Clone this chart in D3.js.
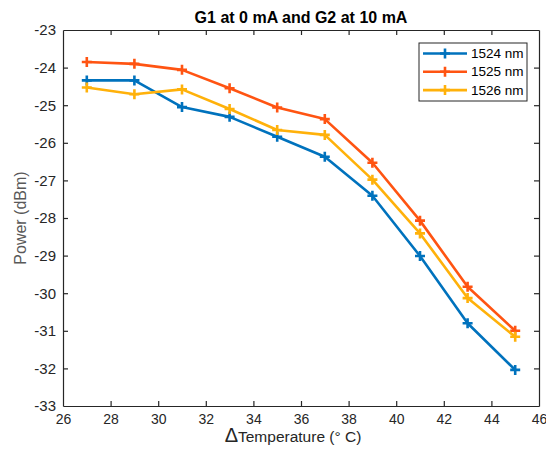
<!DOCTYPE html>
<html><head><meta charset="utf-8">
<script src="https://cdn.jsdelivr.net/npm/d3@7"></script>
<style>body{margin:0;background:#fff}svg{display:block}</style>
</head><body>
<script>
const temps = [27, 29, 31, 33, 35, 37, 39, 41, 43, 45];
const p1524 = [-24.34, -24.34, -25.05, -25.31, -25.84, -26.37, -27.41, -29.01, -30.80, -32.04];
const p1525 = [-23.85, -23.90, -24.06, -24.55, -25.06, -25.37, -26.53, -28.07, -29.83, -31.00];
const p1526 = [-24.53, -24.71, -24.58, -25.10, -25.66, -25.79, -26.98, -28.41, -30.13, -31.16];
const seriesNames = ["1524 nm", "1525 nm", "1526 nm"];
const seriesColors = ["#0072BD", "#FF5412", "#FFB10A"];
const xTicks = [26, 28, 30, 32, 34, 36, 38, 40, 42, 44, 46];
const yTicks = [-23, -24, -25, -26, -27, -28, -29, -30, -31, -32, -33];

const W = 546, H = 452;
const m = {left: 63, right: 539, top: 30, bottom: 406};
const svg = d3.select("body").append("svg").attr("width", W).attr("height", H);
const x = d3.scaleLinear().domain([26, 46]).range([m.left, m.right]);
const y = d3.scaleLinear().domain([-33, -23]).range([m.bottom, m.top]);
const font = "'Liberation Sans', Arial, Helvetica, sans-serif";
const axisCol = "#262626";

// axes
const tl = 5;
const gB = svg.append("g").attr("transform", `translate(0,${m.bottom})`)
  .call(d3.axisBottom(x).tickValues(xTicks).tickSizeInner(-tl).tickSizeOuter(0).tickPadding(8));
const gT = svg.append("g").attr("transform", `translate(0,${m.top})`)
  .call(d3.axisTop(x).tickValues(xTicks).tickSizeInner(-tl).tickSizeOuter(0).tickFormat(""));
const gL = svg.append("g").attr("transform", `translate(${m.left},0)`)
  .call(d3.axisLeft(y).tickValues(yTicks).tickSizeInner(-tl).tickSizeOuter(0).tickPadding(7)
  .tickFormat(d => d3.format("d")(d).replace("−", "-")));
const gR = svg.append("g").attr("transform", `translate(${m.right},0)`)
  .call(d3.axisRight(y).tickValues(yTicks).tickSizeInner(-tl).tickSizeOuter(0).tickFormat(""));
[gB, gT, gL, gR].forEach(g => {
  g.selectAll("path.domain").attr("stroke", axisCol).attr("stroke-width", 1.2);
  g.selectAll("line").attr("stroke", axisCol).attr("stroke-width", 1.2);
  g.selectAll("text").attr("fill", axisCol).attr("font-family", font).attr("font-size", 15);
});
gB.selectAll("text").attr("font-size", 14);
[gB, gT].forEach(g => g.selectAll(".tick").filter(d => d === 26 || d === 46).select("line").remove());
[gL, gR].forEach(g => g.selectAll(".tick").filter(d => d === -23 || d === -33).select("line").remove());

// series
const data = [p1524, p1525, p1526];
const line = d3.line().x((d, i) => x(temps[i])).y(d => y(d));
data.forEach((vals, k) => {
  const g = svg.append("g");
  g.append("path").datum(vals).attr("d", line).attr("fill", "none")
    .attr("stroke", seriesColors[k]).attr("stroke-width", 2.6).attr("stroke-linejoin", "round");
  g.selectAll("path.mk").data(vals).join("path").attr("class", "mk")
    .attr("d", (d, i) => { const cx = x(temps[i]), cy = y(d), s = 5; return `M${cx - s},${cy}H${cx + s}M${cx},${cy - s}V${cy + s}`; })
    .attr("stroke", seriesColors[k]).attr("stroke-width", 2.6).attr("fill", "none");
});

// title
svg.append("text").attr("x", (m.left + m.right) / 2).attr("y", 23).attr("text-anchor", "middle")
  .attr("font-family", font).attr("font-weight", "bold").attr("font-size", 16).attr("fill", "#000")
  .text("G1 at 0 mA and G2 at 10 mA");

// x label
const xl = svg.append("text").attr("x", (m.left + m.right) / 2 - 8).attr("y", 442).attr("text-anchor", "middle")
  .attr("font-family", font).attr("fill", axisCol);
xl.append("tspan").attr("font-size", 20).text("Δ");
xl.append("tspan").attr("font-size", 15.5).text("Temperature (° C)");

// y label
svg.append("text").attr("transform", `translate(26,${(m.top + m.bottom) / 2}) rotate(-90)`)
  .attr("text-anchor", "middle").attr("font-family", font).attr("font-size", 16).attr("fill", "#595959")
  .text("Power (dBm)");

// legend
const lg = svg.append("g");
lg.append("rect").attr("x", 419).attr("y", 43).attr("width", 108).attr("height", 58)
  .attr("fill", "#fff").attr("stroke", "#262626").attr("stroke-width", 1);
seriesNames.forEach((n, k) => {
  const ly = 53.5 + k * 18.3;
  lg.append("line").attr("x1", 423).attr("x2", 467).attr("y1", ly).attr("y2", ly)
    .attr("stroke", seriesColors[k]).attr("stroke-width", 2.6);
  lg.append("path").attr("d", `M440,${ly}H450M445,${ly - 5}V${ly + 5}`)
    .attr("stroke", seriesColors[k]).attr("stroke-width", 2.6);
  lg.append("text").attr("x", 471).attr("y", ly + 4.5).attr("font-family", font).attr("font-size", 13.5)
    .attr("fill", "#000").text(n);
});
</script>
</body></html>
